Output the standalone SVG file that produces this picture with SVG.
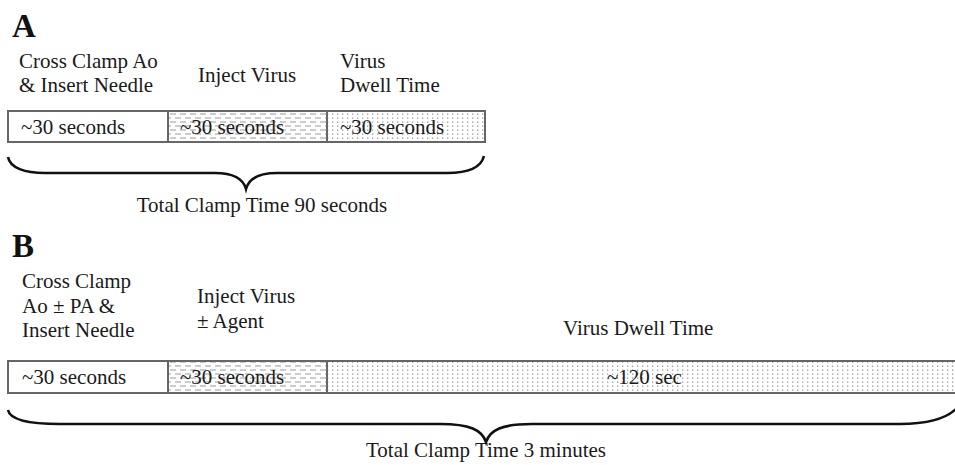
<svg xmlns="http://www.w3.org/2000/svg" width="955" height="465" viewBox="0 0 955 465">
<style>
text{font-family:"Liberation Serif","Times New Roman",serif;font-size:21px;fill:#1a1a1a}
.hd{font-size:33px;font-weight:bold;fill:#111}
.box{stroke:#666;stroke-width:2}
.brace{fill:none;stroke:#111;stroke-width:2.6}
</style>
<defs>
<pattern id="dash" width="10" height="8" patternUnits="userSpaceOnUse">
<rect width="10" height="8" fill="#fff"/>
<line x1="0" y1="2" x2="6" y2="2" stroke="#999" stroke-width="1"/>
<line x1="5" y1="6" x2="11" y2="6" stroke="#999" stroke-width="1"/>
<line x1="-5" y1="6" x2="1" y2="6" stroke="#999" stroke-width="1"/>
</pattern>
<pattern id="dots" width="5" height="4" patternUnits="userSpaceOnUse">
<rect width="5" height="4" fill="#fff"/>
<rect x="2" y="1.5" width="1.3" height="1.3" fill="#999"/>
</pattern>
</defs>
<g id="panelA">
<text class="hd" x="12" y="37">A</text>
<g id="a1">
<rect class="box" x="8" y="111" width="160" height="31" fill="#fff"/>
<text x="19" y="68">Cross Clamp Ao</text>
<text x="19" y="92">&amp; Insert Needle</text>
<text x="21" y="134">~30 seconds</text>
</g>
<g id="a2">
<rect class="box" x="168" y="111" width="159" height="31" fill="url(#dash)"/>
<text x="198" y="82">Inject Virus</text>
<text x="180" y="134">~30 seconds</text>
</g>
<g id="a3">
<rect class="box" x="327" y="111" width="158" height="31" fill="url(#dots)"/>
<text x="340" y="68">Virus</text>
<text x="340" y="92">Dwell Time</text>
<text x="340" y="134">~30 seconds</text>
</g>
<text x="262" y="212" text-anchor="middle">Total Clamp Time 90 seconds</text>
</g>
<g id="panelB">
<text class="hd" x="12" y="257">B</text>
<g id="b1">
<rect class="box" x="8" y="361" width="160" height="32" fill="#fff"/>
<text x="22" y="288">Cross Clamp</text>
<text x="22" y="313">Ao ± PA &amp;</text>
<text x="22" y="337">Insert Needle</text>
<text x="22" y="384">~30 seconds</text>
</g>
<g id="b2">
<rect class="box" x="168" y="361" width="159" height="32" fill="url(#dash)"/>
<text x="197" y="303">Inject Virus</text>
<text x="197" y="328">± Agent</text>
<text x="180" y="384">~30 seconds</text>
</g>
<g id="b3">
<rect class="box" x="327" y="361" width="632" height="32" fill="url(#dots)"/>
<text x="563" y="335">Virus Dwell Time</text>
<text x="607" y="384">~120 sec</text>
</g>
<text x="486" y="457" text-anchor="middle">Total Clamp Time 3 minutes</text>
</g>
<g id="connectors">
<path class="brace" d="M8,157 C10,168 25,173 45,173 L215,173 C233,173 243,178 246,189 C249,178 259,173 277,173 L447,173 C467,173 481,168 484,156"/>
<path class="brace" d="M8,410 C10,420 30,424 60,424 L440,424 C470,424 482,430 486,442 C490,430 502,424 532,424 L900,424 C930,424 948,418 958,407"/>
</g>
</svg>
